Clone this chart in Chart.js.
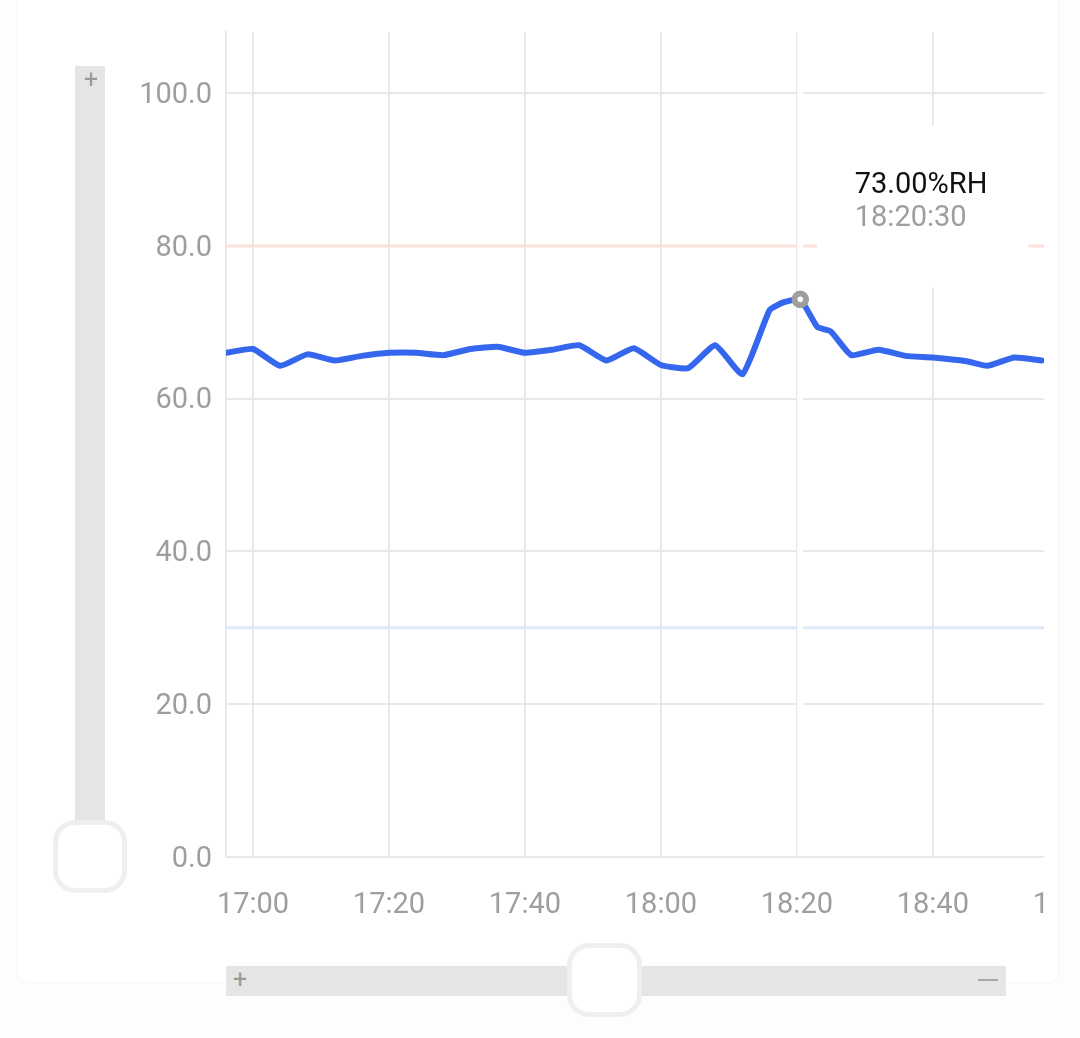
<!DOCTYPE html>
<html>
<head>
<meta charset="utf-8">
<script src="https://cdn.jsdelivr.net/npm/chart.js@4.4.1/dist/chart.umd.min.js"></script>
<style>
  html, body { margin: 0; padding: 0; background: #fdfdfd; width: 1080px; height: 1038px; overflow: hidden; font-family: Roboto, sans-serif; }
  #card { position: absolute; left: 18px; top: -20px; width: 1040px; height: 1002px; background: #ffffff; border-radius: 10px; box-shadow: 0 0 3px rgba(0,0,0,0.06); }
  #clip { position: absolute; left: 0; top: 0; width: 1044px; height: 940px; overflow: hidden; }
  #chart { position: absolute; left: 0; top: 0; }
  .track { position: absolute; background: #e5e5e5; }
  .thumb { position: absolute; box-sizing: border-box; background: #fff; border: 5px solid #efefef; border-radius: 22px; }
  .sign { position: absolute; color: #9a9a9a; font-size: 25px; line-height: 25px; }
</style>
</head>
<body>
<div id="card"></div>
<div id="clip"><canvas id="chart" width="1110" height="937"></canvas></div>

<div class="track" style="left:75px; top:66px; width:30px; height:756px;"></div>
<div class="sign" style="left:84px; top:67px;">+</div>
<div class="thumb" style="left:53px; top:820px; width:74px; height:73px;"></div>

<div class="track" style="left:226px; top:966px; width:780px; height:30px;"></div>
<div class="sign" style="left:233px; top:967px;">+</div>
<div style="position:absolute; left:978px; top:979px; width:20px; height:2px; background:#a8a8a8;"></div>
<div class="thumb" style="left:567px; top:943px; width:75px; height:74px;"></div>

<script>
// ---- data ----
const times = ['16:56','17:00','17:04','17:08','17:12','17:16','17:20','17:24','17:28','17:32','17:36',
               '17:40','17:44','17:48','17:52','17:56','18:00','18:04','18:08','18:12','18:16','18:18',
               '18:20:30','18:23','18:25','18:28','18:32','18:36','18:40','18:45','18:48','18:52','18:56'];
const humidity = [66.0, 66.5, 64.3, 65.8, 65.0, 65.6, 66.0, 66.0, 65.7, 66.5, 66.8,
                  66.0, 66.4, 67.0, 65.0, 66.6, 64.4, 64.0, 67.0, 63.2, 71.6, 72.6,
                  73.0, 69.4, 68.8, 65.7, 66.4, 65.6, 65.4, 64.9, 64.3, 65.4, 65.0];
const upperLimit = [80];
const lowerLimit = [30];
const yTicks = [0, 20, 40, 60, 80, 100];
const xTickLabels = ['17:00','17:20','17:40','18:00','18:20','18:40','19:00'];
const highlightIndex = 22;
const unit = '%RH';

// ---- helpers ----
function toMin(t) { const p = t.split(':').map(Number); return p[0]*60 + p[1] + (p[2]||0)/60; }
function fmt(m) { const h = Math.floor(m/60), mm = Math.round(m - h*60); return h + ':' + String(mm).padStart(2,'0'); }

const xMin = toMin('17:00') - 3.97;
const xMax = toMin('19:04');
const yMin = 0, yMax = 108;

const points = times.map((t,i) => ({x: toMin(t), y: humidity[i]}));
const radii = humidity.map((v,i) => i === highlightIndex ? 5.8 : 0);

Chart.defaults.font.family = 'Roboto';

const highlightPlugin = {
  id: 'highlight',
  beforeDatasetDraw(chart, args) {
    if (args.index !== 0) return;
    const ctx = chart.ctx, area = chart.chartArea;
    const px = chart.scales.x.getPixelForValue(points[highlightIndex].x);
    const py = chart.scales.y.getPixelForValue(points[highlightIndex].y);
    ctx.save();
    ctx.fillStyle = '#ffffff';
    ctx.fillRect(px - 3, area.top, 6, area.bottom - area.top - 1);
    ctx.fillRect(px + 17, py - 174, 211, 162);
    ctx.textAlign = 'left';
    ctx.textBaseline = 'alphabetic';
    ctx.font = '29px Roboto';
    ctx.fillStyle = '#111111';
    ctx.fillText(humidity[highlightIndex].toFixed(2) + unit, px + 54.5, py - 106.5);
    ctx.fillStyle = '#9e9e9e';
    ctx.fillText(times[highlightIndex], px + 54.5, py - 73);
    ctx.restore();
  }
};

new Chart(document.getElementById('chart'), {
  type: 'line',
  data: {
    datasets: [
      {
        data: points,
        borderColor: '#3467ee',
        borderWidth: 6,
        borderJoinStyle: 'round',
        borderCapStyle: 'round',
        tension: 0.15,
        pointRadius: radii,
        pointBackgroundColor: '#ffffff',
        pointBorderColor: '#9e9e9e',
        pointBorderWidth: 6,
        order: 0
      },
      {
        data: [{x: xMin, y: upperLimit[0]}, {x: xMax, y: upperLimit[0]}],
        borderColor: '#fce2d8',
        borderWidth: 3,
        pointRadius: 0,
        order: 1
      },
      {
        data: [{x: xMin, y: lowerLimit[0]}, {x: xMax, y: lowerLimit[0]}],
        borderColor: '#dce9f8',
        borderWidth: 3,
        pointRadius: 0,
        order: 2
      }
    ]
  },
  options: {
    responsive: false,
    animation: false,
    events: [],
    layout: { padding: { left: 0, top: 32, right: 14, bottom: 0 } },
    plugins: { legend: { display: false }, tooltip: { enabled: false } },
    scales: {
      x: {
        type: 'linear',
        min: xMin,
        max: xMax,
        afterBuildTicks: s => { s.ticks = xTickLabels.map(t => ({value: toMin(t)})); },
        afterFit: s => { s.height = 80; s.paddingLeft = 0; s.paddingRight = 0; },
        grid: { color: '#e8e8e8', lineWidth: 2, drawTicks: false },
        border: { color: '#e8e8e8', width: 2 },
        ticks: { color: '#9e9e9e', font: { size: 29 }, padding: 31, maxRotation: 0, autoSkip: false,
                 callback: v => fmt(v) }
      },
      y: {
        min: yMin,
        max: yMax,
        afterBuildTicks: s => { s.ticks = yTicks.map(v => ({value: v})); },
        afterFit: s => { s.width = 226; s.paddingTop = 0; s.paddingBottom = 0; },
        grid: { color: '#e8e8e8', lineWidth: 2, drawTicks: false },
        border: { color: '#e8e8e8', width: 2 },
        ticks: { color: '#9e9e9e', font: { size: 29 }, padding: 14, labelOffset: 2.5,
                 callback: v => Number(v).toFixed(1) }
      }
    }
  },
  plugins: [highlightPlugin]
});
</script>
</body>
</html>
